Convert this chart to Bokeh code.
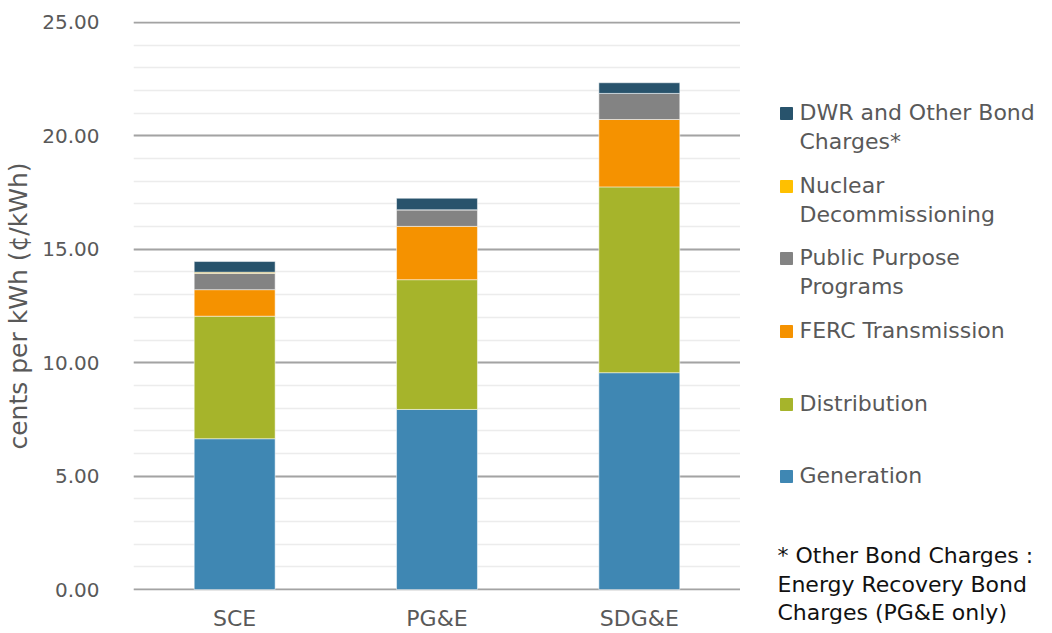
from bokeh.plotting import figure
from bokeh.layouts import row
from bokeh.models import ColumnDataSource, FactorRange, Range1d, SingleIntervalTicker, NumeralTickFormatter
from bokeh.core.properties import value
from bokeh.embed import file_html
from bokeh.resources import INLINE

# Average rate components by utility (cents per kWh)
utilities = ["SCE", "PG&E", "SDG&E"]
generation = [6.65, 7.94, 9.56]
distribution = [5.40, 5.72, 8.19]
ferc_transmission = [1.17, 2.35, 2.97]
public_purpose = [0.72, 0.73, 1.15]
nuclear_decom = [0.05, 0.0, 0.0]
dwr_bond = [0.47, 0.51, 0.47]

components = ["generation", "distribution", "ferc", "ppp", "nuclear", "dwr"]
colors = ["#3F87B3", "#A6B42B", "#F59200", "#838383", "#FFC000", "#28536C"]
legend_labels = [
    ["Generation"],
    ["Distribution"],
    ["FERC Transmission"],
    ["Public Purpose", "Programs"],
    ["Nuclear", "Decommissioning"],
    ["DWR and Other Bond", "Charges*"],
]
footnote = ["* Other Bond Charges :", "Energy Recovery Bond", "Charges (PG&E only)"]

FONT = "DejaVu Sans"
GREY_TEXT = "#595959"

source = ColumnDataSource(dict(
    utility=utilities,
    generation=generation,
    distribution=distribution,
    ferc=ferc_transmission,
    ppp=public_purpose,
    nuclear=nuclear_decom,
    dwr=dwr_bond,
))

p = figure(
    x_range=FactorRange(*utilities),
    y_range=Range1d(-0.04, 25.04),
    width=740, height=633,
    min_border_left=133, min_border_right=0,
    min_border_top=21, min_border_bottom=43,
    output_backend="svg", toolbar_location=None,
)
p.frame_align = False
p.outline_line_color = None
p.background_fill_color = "white"
p.border_fill_color = "white"

p.vbar_stack(components, x="utility", width=0.4, color=colors, source=source,
             line_color="white", line_width=1, line_alpha=0.5)

# y axis
p.yaxis.ticker = SingleIntervalTicker(interval=5, num_minor_ticks=5)
p.yaxis.formatter = NumeralTickFormatter(format="0.00")
p.yaxis.axis_line_color = None
p.yaxis.major_tick_line_color = None
p.yaxis.minor_tick_line_color = None
p.yaxis.major_tick_in = 0
p.yaxis.major_tick_out = 0
p.yaxis.major_label_standoff = 30
p.yaxis.major_label_text_font = FONT
p.yaxis.major_label_text_font_size = "20px"
p.yaxis.major_label_text_color = GREY_TEXT
p.yaxis.axis_label = "cents per kWh (¢/kWh)"
p.yaxis.axis_label_text_font = FONT
p.yaxis.axis_label_text_font_size = "25px"
p.yaxis.axis_label_text_font_style = "normal"
p.yaxis.axis_label_text_color = GREY_TEXT
p.yaxis.axis_label_standoff = 6

# x axis
p.xaxis.axis_line_color = None
p.xaxis.major_tick_line_color = None
p.xaxis.major_tick_in = 0
p.xaxis.major_tick_out = 0
p.xaxis.major_label_standoff = 15
p.xaxis.major_label_text_font = FONT
p.xaxis.major_label_text_font_size = "22px"
p.xaxis.major_label_text_color = GREY_TEXT

# grid
p.xgrid.grid_line_color = None
p.ygrid.grid_line_color = "#a3a3a3"
p.ygrid.grid_line_width = 2
p.ygrid.minor_grid_line_color = "#ececec"
p.ygrid.minor_grid_line_width = 1.5
p.ygrid.level = "underlay"

# legend and footnote panel (coordinates in panel pixels, y downward)
q = figure(
    width=312, height=633,
    x_range=Range1d(0, 312), y_range=Range1d(633, 0),
    x_axis_location=None, y_axis_location=None,
    min_border=0, output_backend="svg", toolbar_location=None,
)
q.frame_align = False
q.grid.visible = False
q.outline_line_color = None

entry_top = [475, 403, 330, 257, 185, 112]
sq_x, sq_y, sq_c = [], [], []
tx, ty, tt = [], [], []
for lines, color, y0 in zip(legend_labels, colors, entry_top):
    sq_x.append(46)
    sq_y.append(y0 + 1)
    sq_c.append(color)
    for i, line in enumerate(lines):
        tx.append(59)
        ty.append(y0 + i * 29)
        tt.append(line)

q.rect(x=sq_x, y=sq_y, width=12, height=12, color=sq_c)
q.text(x=tx, y=ty, text=tt, text_font=value(FONT), text_font_size="22px",
       text_color=GREY_TEXT, text_baseline="middle", text_align="left")

fx = [37] * len(footnote)
fy = [555 + 28.5 * i for i in range(len(footnote))]
q.text(x=fx, y=fy, text=footnote, text_font=value(FONT), text_font_size="22px",
       text_color="#111111", text_baseline="middle", text_align="left")

layout = row(p, q)
open("out.html", "w").write(file_html(layout, INLINE))
